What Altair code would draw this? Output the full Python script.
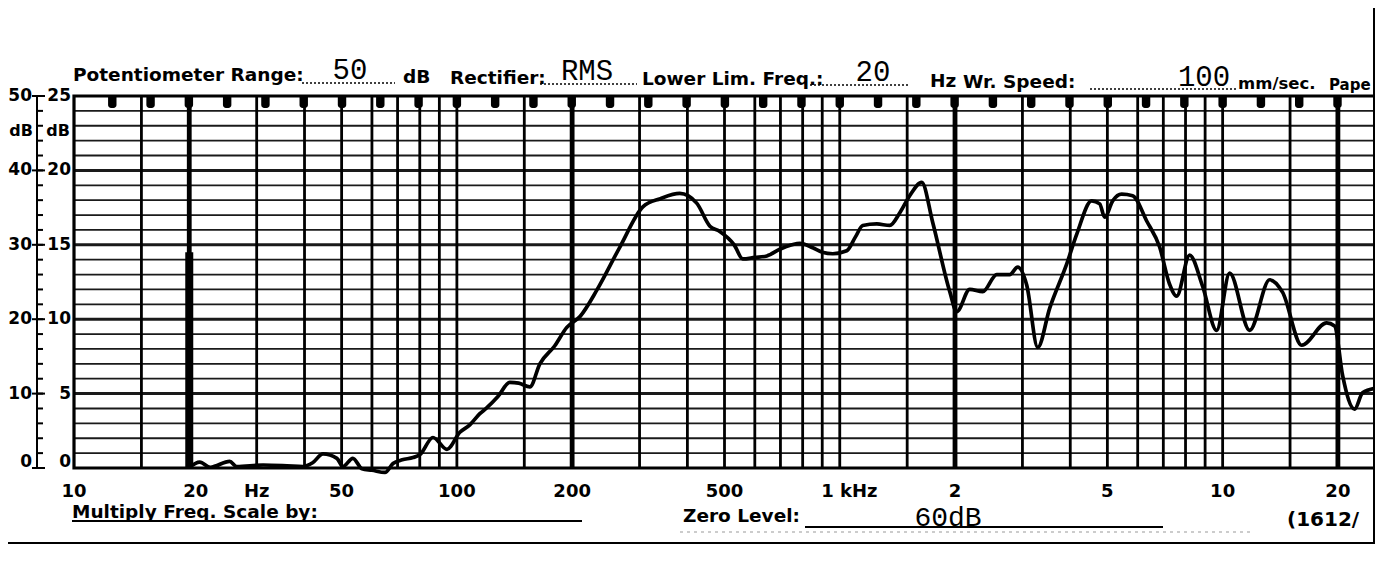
import altair as alt
import pandas as pd

# ---------------- data ----------------
freq_hz = [20, 21.3, 22.7, 25.5, 26.6, 31.2, 36, 39.6, 42, 44.7, 48.6, 50.4, 53.5, 56.5, 60,
           64.9, 68.1, 72, 76.8, 80.1, 86.6, 94.2, 101.8, 108.1, 114.8, 119.8, 128, 137.5, 145,
           155.1, 164.7, 180, 193.7, 210, 232, 266.5, 306, 340, 382, 423, 458, 486, 530, 558,
           600, 645, 697, 750, 787, 850, 900, 959, 1043, 1100, 1148, 1250, 1351, 1435, 1523,
           1637, 1749, 1938, 2021, 2185, 2363, 2570, 2779, 2916, 3078, 3289, 3535, 3914, 4157,
           4550, 4775, 4920, 5162, 5448, 5821, 6333, 6846, 7270, 7584, 8200, 8868, 9645, 10430,
           11765, 13270, 14346, 16085, 18690, 19610, 20580, 22110, 23200, 24940]
level_db = [0.1, 0.8, 0.1, 0.9, 0.2, 0.4, 0.3, 0.2, 0.7, 1.9, 1.3, 0.2, 1.3, -0.1, -0.3,
            -0.6, 0.6, 1.1, 1.4, 1.8, 4.1, 2.5, 4.8, 5.8, 7.3, 8.1, 9.6, 11.5, 11.4,
            10.9, 14.0, 16.4, 18.9, 20.4, 23.9, 29.7, 35.1, 36.2, 36.9, 35.6, 32.5, 31.8, 30.0, 28.1,
            28.3, 28.5, 29.4, 30.0, 30.2, 29.6, 29.0, 28.8, 29.2, 31.1, 32.6, 32.8, 32.6, 34.3, 36.6,
            38.4, 33.0, 23.7, 21.0, 24.0, 23.7, 26.0, 26.0, 27.0, 24.6, 16.2, 21.5, 27.4, 31.4,
            35.9, 35.5, 33.7, 35.9, 36.8, 36.6, 33.2, 29.7, 24.7, 23.1, 28.6, 24.4, 18.5, 26.2,
            18.5, 25.3, 23.6, 16.5, 19.5, 19.1, 12.4, 7.9, 10.1, 10.7]

outer_labels = ["0", "10", "20", "30", "40", "50"]
inner_labels = ["0", "5", "10", "15", "20", "25"]
label_db = [0, 10, 20, 30, 40, 50]
freq_ticks = ["10", "20", "Hz", "50", "100", "200", "500", "1 kHz", "2", "5", "10", "20"]
freq_tick_hz = [10, 20, 30, 50, 100, 200, 500, 1000, 2000, 5000, 10000, 20000]
grid_mult = [1, 1.5, 2, 3, 4, 5, 6, 7, 8, 9]      # chart-paper lines per decade
grid_decades = [10, 100, 1000, 10000]

# ---------------- layout ----------------
OX, OY = 74, 96          # plot origin on the page
W, H = 1301, 372
xs = alt.Scale(type="log", domain=[10, 25000])
ys = alt.Scale(domain=[0, 50])
X = lambda f: alt.X(f, type="quantitative", scale=xs, axis=None)
Y = lambda f: alt.Y(f, type="quantitative", scale=ys, axis=None)
PX = lambda f: alt.X(f, type="quantitative", scale=None, axis=None)
PY = lambda f: alt.Y(f, type="quantitative", scale=None, axis=None)

# grid
hg = pd.DataFrame({"db": list(range(2, 50, 2))})
hg["w"] = [3.0 if d % 10 == 0 else 1.8 for d in hg.db]
hgrid = alt.Chart(hg).mark_rule(color="#1a1a1a").encode(
    y=Y("db"), strokeWidth=alt.StrokeWidth("w:Q", scale=None))

vrows = [(m * d, 4.8 if m == 2 else 2.8) for d in grid_decades for m in grid_mult
         if 10 < m * d <= 20000]
vg = pd.DataFrame(vrows, columns=["f", "w"])
vgrid = alt.Chart(vg).mark_rule(color="#000").encode(
    x=X("f"), strokeWidth=alt.StrokeWidth("w:Q", scale=None))

tabs = pd.DataFrame({"e": [1.1 + 0.1 * i for i in range(33)]})
tabs["lo"] = 10 ** (tabs.e - 0.011)
tabs["hi"] = 10 ** (tabs.e + 0.011)
tab_layer = alt.Chart(tabs).mark_rect(color="#000", cornerRadiusBottomLeft=3,
                                      cornerRadiusBottomRight=3).encode(
    x=X("lo"), x2="hi", y=alt.value(0), y2=alt.value(12))

border = alt.Chart(pd.DataFrame({"a": [0]})).mark_rect(
    fillOpacity=0, stroke="#000", strokeWidth=3.2).encode(
    x=alt.value(0), x2=alt.value(W), y=alt.value(0), y2=alt.value(H))

pen = alt.Chart(pd.DataFrame({"f": [20], "a": [0], "b": [29]})).mark_rule(
    color="#000", strokeWidth=8).encode(x=X("f"), y=Y("a"), y2="b")

curve = pd.DataFrame({"f": freq_hz, "db": level_db})
line = alt.Chart(curve).mark_line(color="#000", strokeWidth=3.7, interpolate="monotone",
                                  clip=False).encode(x=X("f"), y=Y("db"))

# left dB bracket
bracket = alt.Chart(pd.DataFrame({"a": [0], "b": [50]})).mark_rule(
    color="#000", strokeWidth=2).encode(x=alt.value(-37), y=Y("a"), y2="b")
bt = pd.DataFrame({"db": list(range(0, 51, 2))})
bticks = alt.Chart(bt).mark_rule(color="#000", strokeWidth=2).encode(
    y=Y("db"), x=alt.value(-37), x2=alt.value(-31))
bt10 = pd.DataFrame({"db": [10, 20, 30, 40, 50, 0]})
bticks10 = alt.Chart(bt10).mark_rule(color="#000", strokeWidth=2).encode(
    y=Y("db"), x=alt.value(-42), x2=alt.value(-29))

font_b = "DejaVu Sans"
lab = pd.DataFrame({"o": outer_labels, "i": inner_labels,
                    "db": [d + (0.8 if d == 0 else 0) for d in label_db]})
outer = alt.Chart(lab).mark_text(font=font_b, fontWeight="bold", fontSize=17, align="right",
                                 baseline="middle", color="#000").encode(
    x=alt.value(-42), y=Y("db"), text="o:N")
inner = alt.Chart(lab).mark_text(font=font_b, fontWeight="bold", fontSize=17, align="right",
                                 baseline="middle", color="#000").encode(
    x=alt.value(-3), y=Y("db"), text="i:N")
dbl = pd.DataFrame({"t": ["dB", "dB"], "px": [-41, -4], "db": [45.3, 45.3]})
dblab = alt.Chart(dbl).mark_text(font=font_b, fontWeight="bold", fontSize=16, align="right",
                                 baseline="middle", color="#000").encode(
    x=PX("px"), y=Y("db"), text="t:N")

# frequency labels under the plot
fl = pd.DataFrame({"t": freq_ticks,
                   "f": [f * (1.06 if t == "1 kHz" else (1.04 if t == "20" and f == 20 else 1.0))
                         for t, f in zip(freq_ticks, freq_tick_hz)]})
flab = alt.Chart(fl).mark_text(font=font_b, fontWeight="bold", fontSize=18, align="center",
                               baseline="alphabetic", color="#000").encode(
    x=X("f"), y=alt.value(497 - OY), text="t:N")

# page annotations (absolute page pixels)
def txt(rows, **kw):
    d = pd.DataFrame(rows, columns=["t", "px", "py"])
    d["px"] = d.px - OX
    d["py"] = d.py - OY
    return alt.Chart(d).mark_text(color="#000", baseline="alphabetic", **kw).encode(
        x=PX("px"), y=PY("py"), text="t:N")

head = txt([("Potentiometer Range:", 73, 81), ("dB", 403, 83), ("Rectifier:", 450, 84),
            ("Lower Lim. Freq.:", 642, 85), ("Hz", 930, 87), ("Wr. Speed:", 963, 88),
            ("Multiply Freq. Scale by:", 72, 518), ("Zero Level:", 683, 522)],
           font=font_b, fontWeight="bold", fontSize=18.5, align="left")
head2 = txt([("mm/sec.", 1238, 89)],
            font=font_b, fontWeight="bold", fontSize=16.5, align="left")
head4 = txt([("Pape", 1329, 90)],
            font=font_b, fontWeight="bold", fontSize=15, align="left")
head3 = txt([("(1612/", 1287, 526)], font=font_b, fontWeight="bold", fontSize=20, align="left")
typed = txt([("50", 350, 79), ("RMS", 587, 80), ("20", 873, 81), ("100", 1204, 86)],
            font="Liberation Mono", fontSize=29, align="center")
typed2 = txt([("60dB", 948, 526)], font="Liberation Mono", fontSize=28, align="center")

def rules(rows, **kw):
    d = pd.DataFrame(rows, columns=["x1", "x2", "y1", "y2"])
    d["x1"] = d.x1 - OX
    d["x2"] = d.x2 - OX
    d["y1"] = d.y1 - OY
    d["y2"] = d.y2 - OY
    return alt.Chart(d).mark_rule(color="#000", **kw).encode(
        x=PX("x1"), x2="x2", y=PY("y1"), y2="y2")

dots = rules([(302, 395, 83, 83), (540, 637, 84, 84), (810, 910, 85, 85), (1090, 1236, 89, 89)],
             strokeWidth=1.3, strokeDash=[2, 2])
solid = rules([(72, 582, 521, 521), (805, 1163, 527, 527)], strokeWidth=2)
frame = rules([(1374, 1374, 8, 543), (8, 1375, 543, 543)], strokeWidth=2)
faint = rules([(680, 1250, 532, 532)], strokeWidth=1, strokeDash=[3, 4], opacity=0.4)

chart = alt.layer(hgrid, vgrid, tab_layer, border, pen, line, bracket, bticks, bticks10,
                  outer, inner, dblab, flab, head, head2, head3, head4, typed, typed2, dots,
                  solid, frame, faint).properties(
    width=W, height=H,
    autosize=alt.AutoSizeParams(type="none"),
    padding={"left": OX - 8, "top": OY - 8, "right": 0, "bottom": 80},
    background="white",
).configure_view(stroke=None)

chart.save("out.html", embed_options={"renderer": "svg", "actions": False})
